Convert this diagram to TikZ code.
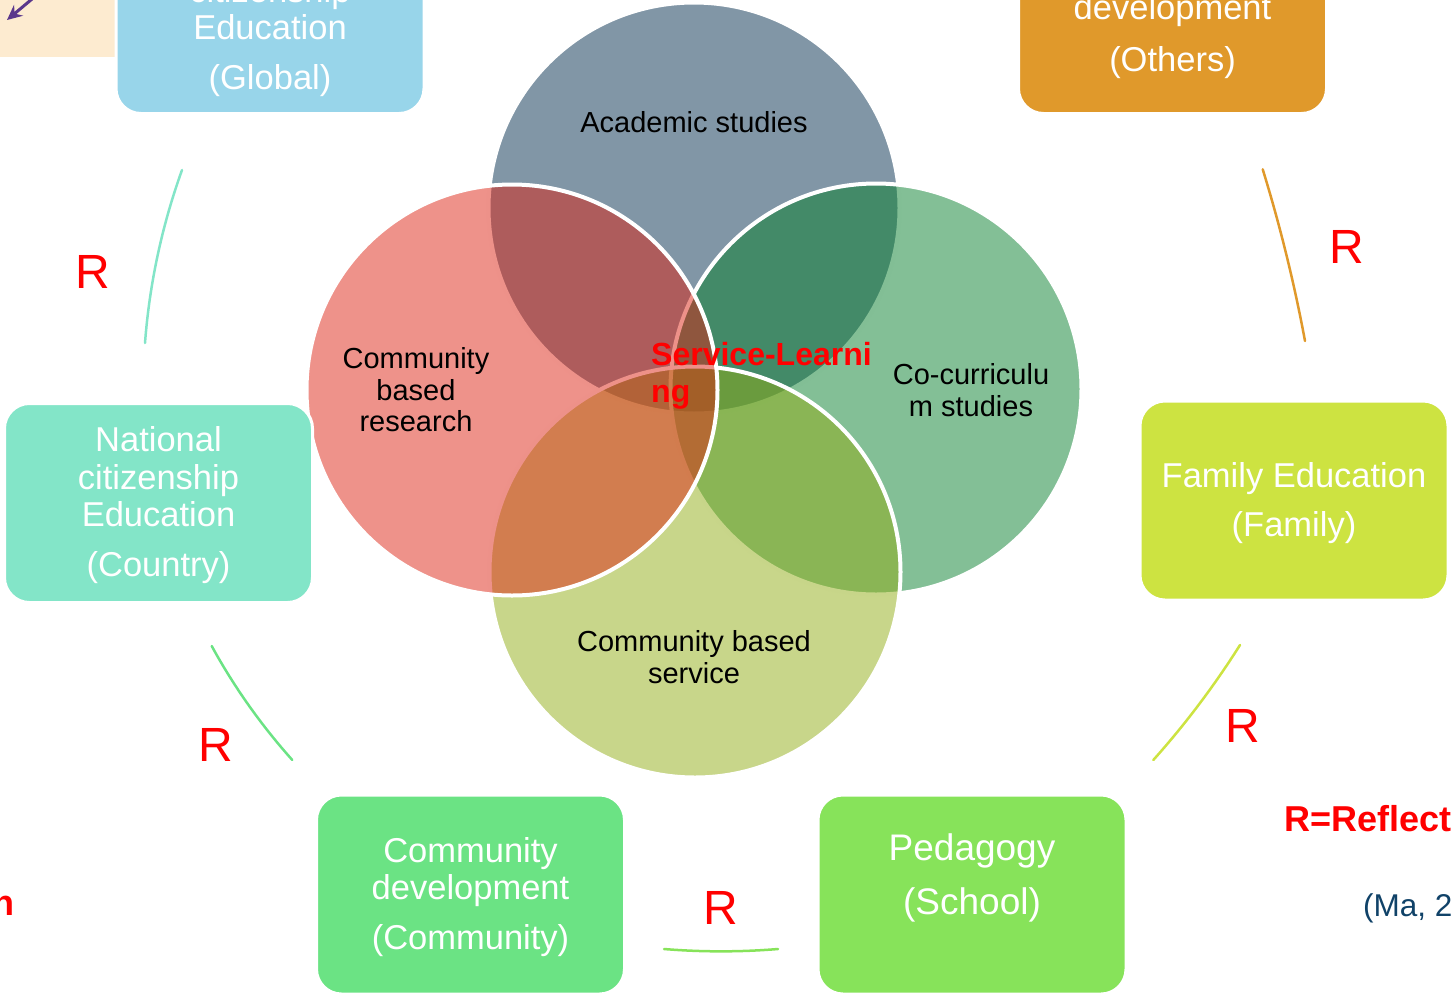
\documentclass[tikz,border=0pt]{standalone}
\usepackage{fontspec}
\setmainfont{Liberation Sans}
\usetikzlibrary{arrows.meta}
\definecolor{cTop}{RGB}{3,45,77}
\definecolor{cLeft}{RGB}{221,37,21}
\definecolor{cRight}{RGB}{7,127,45}
\definecolor{cBottom}{RGB}{145,173,21}
\definecolor{gBlue}{RGB}{152,213,234}
\definecolor{oOrange}{RGB}{224,153,43}
\definecolor{nMint}{RGB}{131,229,200}
\definecolor{fLime}{RGB}{205,227,65}
\definecolor{cdGreen}{RGB}{107,227,132}
\definecolor{pGreen}{RGB}{135,227,90}
\definecolor{peach}{RGB}{253,235,208}
\definecolor{arrowPurple}{RGB}{91,55,140}
\definecolor{refBlue}{RGB}{16,66,104}
\definecolor{rRed}{RGB}{255,0,0}
\tikzset{
  venn/.style={circle, minimum size=411, inner sep=0, fill opacity=0.5, draw=white, line width=4},
  cbox/.style={rectangle, rounded corners=25, draw=white, line width=3, minimum width=308, minimum height=199, inner sep=0},
  boxtext/.style={text=white, align=center, inner sep=0, font=\fontsize{34.5}{37.5}\selectfont},
  venntext/.style={text=black, align=center, inner sep=0, font=\fontsize{29}{31.5}\selectfont},
  rlab/.style={text=rRed, inner sep=0, font=\fontsize{48}{50}\selectfont},
  cyclearc/.style={line width=2.5, line cap=round}
}
\begin{document}
\begin{tikzpicture}[x=1pt,y=-1pt]
\useasboundingbox (0,0) rectangle (1451,994);
\clip (0,0) rectangle (1451,994);

% peach rectangle with purple arrow
\node[rectangle, fill=peach, minimum width=130, minimum height=57, inner sep=0, anchor=north west] (peachbox) at (0,0) {};
\coordinate (arrA) at (38,-6);
\coordinate (arrB) at (7,20);
\draw[arrowPurple, line width=3, -{Stealth[length=15,width=14,inset=5]}] (arrA) -- (arrB);

% Venn circles
\node[venn, fill=cTop] (top) at (694,208) {};
\node[venn, fill=cRight] (right) at (876,389) {};
\node[venn, fill=cBottom] (bottom) at (695,572) {};
\node[venn, fill=cLeft] (left) at (512,390) {};

% Venn labels
\node[venntext] (topt) at (694,122) {Academic studies};
\node[venntext] (leftt) at (416,390) {Community\\based\\research};
\node[venntext] (rightt) at (971,390) {Co-curriculu\\m studies};
\node[venntext] (bottomt) at (694,657) {Community based\\service};
\node[text=rRed, align=left, inner sep=0, anchor=west, font=\bfseries\fontsize{32}{37.5}\selectfont] (sl) at (651,376) {Service-Learni\\ng};

% boxes
\node[cbox, fill=gBlue] (global) at (270,14) {};
\node[boxtext] (globalt) at (270,37) {citizenship\\Education\\[12pt](Global)};
\node[cbox, fill=oOrange] (others) at (1172.5,14) {};
\node[boxtext] (otherst) at (1172.5,37) {development\\[14.5pt](Others)};
\node[cbox, fill=nMint] (national) at (158.5,503) {};
\node[boxtext] (nationalt) at (158.5,505) {National\\citizenship\\Education\\[12pt](Country)};
\node[cbox, fill=fLime] (family) at (1294,500.5) {};
\node[boxtext] (familyt) at (1294,503) {Family Education\\[12pt](Family)};
\node[cbox, fill=cdGreen] (commdev) at (470.5,894.5) {};
\node[boxtext] (commdevt) at (470.5,897) {Community\\development\\[12pt](Community)};
\node[cbox, fill=pGreen] (pedagogy) at (972,894.5) {};
\node[boxtext, font=\fontsize{37}{40}\selectfont] (pedagogyt) at (972,878) {Pedagogy\\[14pt](School)};

% cycle arcs
\coordinate (a1s) at (182,170); \coordinate (a1e) at (145,343);
\draw[cyclearc, nMint] (a1s) .. controls (161.9,226) and (149.5,283.7) .. (a1e);
\coordinate (a2s) at (211.7,646); \coordinate (a2e) at (292.3,760);
\draw[cyclearc, cdGreen] (a2s) .. controls (234.2,687.1) and (261.1,725.1) .. (a2e);
\coordinate (a3s) at (664,949); \coordinate (a3e) at (778,949);
\draw[cyclearc, pGreen] (a3s) .. controls (702,952.1) and (740,952.1) .. (a3e);
\coordinate (a4s) at (1240,645); \coordinate (a4e) at (1153.3,760);
\draw[cyclearc, fLime] (a4s) .. controls (1214.3,685.7) and (1185.4,724.1) .. (a4e);
\coordinate (a5s) at (1262.7,169.3); \coordinate (a5e) at (1305,341);
\draw[cyclearc, oOrange] (a5s) .. controls (1280.1,225.8) and (1294.2,283) .. (a5e);

% R labels
\node[rlab] (r1) at (92.5,272) {R};
\node[rlab] (r2) at (216,745) {R};
\node[rlab] (r3) at (721,908) {R};
\node[rlab] (r4) at (1243,725.5) {R};
\node[rlab] (r5) at (1347,247) {R};

% side texts
\node[text=rRed, inner sep=0, anchor=base west, font=\bfseries\fontsize{36}{40}\selectfont] (refl) at (1284,831.5) {R=Reflection};
\node[text=refBlue, inner sep=0, anchor=base west, font=\fontsize{31.5}{36}\selectfont] (cite) at (1363,916.5) {(Ma, 2};
\node[text=rRed, inner sep=0, anchor=base east, font=\bfseries\fontsize{36}{40}\selectfont] (leftn) at (15,915) {n};
\end{tikzpicture}
\end{document}
